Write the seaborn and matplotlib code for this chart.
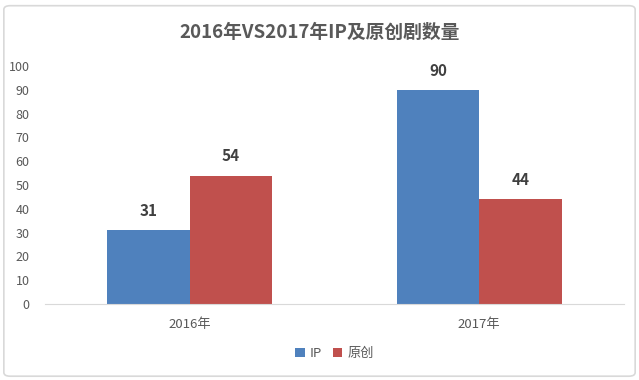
import matplotlib
matplotlib.use('Agg')
import matplotlib.pyplot as plt
import seaborn as sns
import pandas as pd
from matplotlib.patches import FancyBboxPatch

# 数据
years = ['2016年', '2017年']
series = ['IP', '原创']
ip_counts = [31, 90]
original_counts = [54, 44]
colors = ['#4F81BD', '#C0504D']

df = pd.DataFrame({
    'year': years * 2,
    'type': [series[0]] * 2 + [series[1]] * 2,
    'count': ip_counts + original_counts,
})

sns.set_style('white')
plt.rcParams['font.family'] = ['Noto Sans CJK SC', 'DejaVu Sans']

fig = plt.figure(figsize=(6.39, 3.8), dpi=100)
ax = fig.add_axes([0.0704, 0.2, 0.906, 0.626])

sns.barplot(data=df, x='year', y='count', hue='type', palette=colors,
            width=0.57, saturation=1, linewidth=0, ax=ax, legend=True)

for c in ax.containers:
    ax.bar_label(c, padding=8, fontsize=11, fontweight='bold', color='#404040')

ax.set_ylim(0, 100)
ax.set_yticks(range(0, 101, 10))
ax.set_xlabel('')
ax.set_ylabel('')
ax.tick_params(axis='both', length=0, colors='#595959', labelsize=9)
ax.tick_params(axis='y', pad=11)
ax.tick_params(axis='x', labelsize=9.5, pad=10)
for s in ['top', 'right', 'left']:
    ax.spines[s].set_visible(False)
ax.spines['bottom'].set_color('#d9d9d9')

ax.legend(loc='center', bbox_to_anchor=(0.5, -0.21), ncol=2, frameon=False,
          fontsize=9.5, handlelength=0.7, handleheight=0.7, handletextpad=0.4,
          columnspacing=0.8, labelcolor='#595959')

fig.suptitle('2016年VS2017年IP及原创剧数量', y=0.94, fontsize=13.5,
             fontweight='bold', color='#595959')

border = FancyBboxPatch((0.006, 0.01), 0.988, 0.975, boxstyle='round,pad=0,rounding_size=0.01',
                        transform=fig.transFigure, fill=False, edgecolor='#d9d9d9',
                        linewidth=1.2)
fig.patches.append(border)

fig.savefig('out.png', dpi=100)
